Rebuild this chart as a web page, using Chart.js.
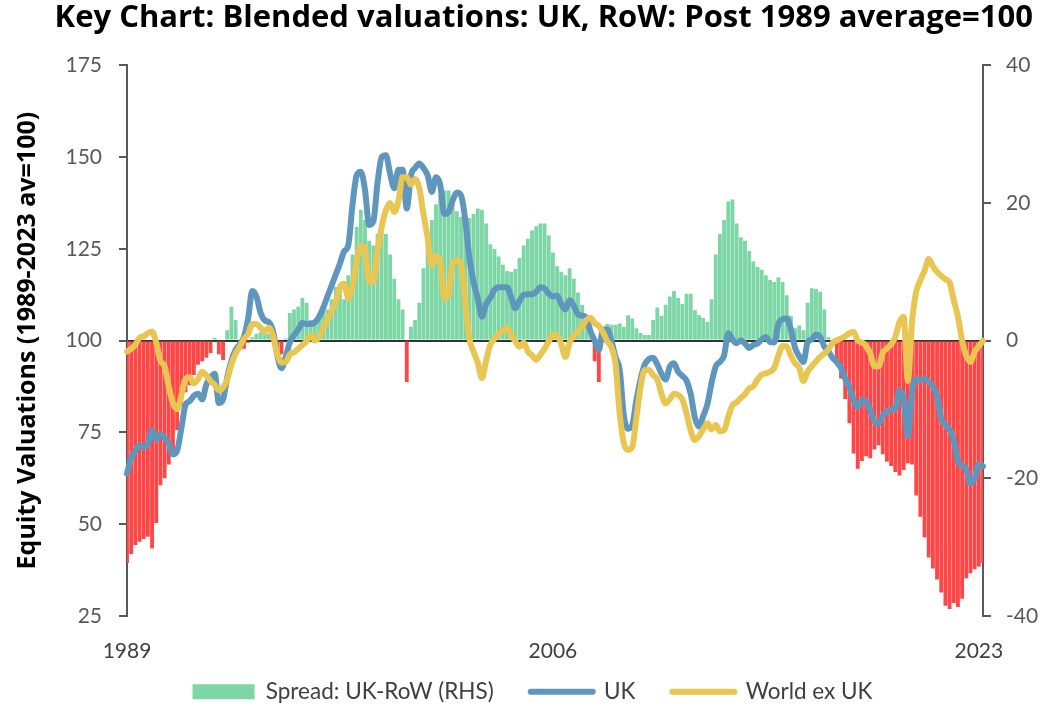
<!DOCTYPE html>
<html>
<head>
<meta charset="utf-8">
<title>Blended valuations: UK, RoW</title>
<script src="https://cdn.jsdelivr.net/npm/chart.js@4/dist/chart.umd.min.js"></script>
<style>
  html, body { margin: 0; padding: 0; background: #fff; }
</style>
</head>
<body>
<canvas id="chart" width="1041" height="706"></canvas>
<script>
// bimonthly observations, Jan 1989 .. Mar 2023 (one row per year)
const startYear = 1989;
const tickYears = ["1989", "2006", "2023"];

// UK minus rest of world, right hand scale
const spread = [
  -32.3, -31, -29.7, -29.2, -28.8, -28.5,
  -30.2, -26.5, -21, -20, -18, -16.5,
  -13, -9.5, -7.5, -6.5, -5, -3.5,
  -3, -2.5, -1.8, 0.4, -2, -2.8,
  1.5, 4.9, 3, -1, -1.2, -0.3,
  0.5, 1, 1.2, 1, 1, 0.2,
  -1.5, -2, 0.3, 4, 4.5, 4.9,
  6.2, 5.5, 3, 2.6, 3.9, 4.5,
  4.5, 6, 7.8, 7.8, 6, 9.5,
  12.5, 16.5, 19, 17.5, 14.5, 13.8,
  15.5, 17, 15.5, 12.5, 9, 6,
  4.5, -6, 2, 3, 5.5, 10.5,
  15, 17.5, 19.8, 21.2, 21.8, 21.8,
  20.5, 18.8, 18, 17.8, 17.8, 18.4,
  19.2, 19, 17, 14, 13.3, 12.2,
  11, 10.1, 10, 10.4, 12, 13.8,
  14.8, 16, 16.6, 17, 17, 15.3,
  12.8, 10.8, 10, 9.5, 10.5, 9,
  7, 5.2, 3.6, 1.8, -3, -6,
  1, 2.4, 2.3, 2.3, 2.5, 2,
  3.7, 3.2, 1.8, 1.1, 0.8, 0.8,
  3, 4.8, 3.6, 5.2, 6.4, 7.2,
  6.2, 5.3, 6.8, 6.8, 4.4, 3.7,
  3.3, 2.7, 6, 12.5, 15.5, 17.5,
  20.2, 20.5, 17, 15, 14.5, 13,
  11.5, 10.7, 10.3, 9.5, 8.8, 8.5,
  9.2, 8.5, 6.6, 3.6, 1.8, 2.2,
  1.5, 5.5, 7.6, 7.5, 7.1, 4.5,
  0.5, -0.6, -3.5, -5.5, -8.5, -12,
  -16.4, -18.6, -17.5, -16.8, -17.1, -15.8,
  -15.2, -16.5, -17.6, -18.2, -19.1, -19.6,
  -18.8, -17.8, -18, -22.5, -25.6, -28.6,
  -31.5, -33.1, -34.7, -36.6, -38.5, -39,
  -38.1, -38.7, -37.5, -34.5, -33.8, -33.2,
  -32.8, -32.3
];

const uk = [
  63.8, 68, 70, 71.5, 71, 72,
  75.5, 73, 74.5, 73.5, 72, 69,
  70, 76, 82.5, 83.5, 85, 85.5,
  84, 88, 90, 91, 83, 84,
  90, 94.5, 97.5, 99, 101, 106,
  113.5, 112, 107.5, 105.5, 105, 102.5,
  96, 92.5, 95.5, 99.5, 101.5, 103,
  104.8, 104.5, 104.5, 105, 106.5, 109,
  112, 115, 118, 121, 124.3, 126,
  137, 145, 146, 141, 131.5, 132.5,
  143, 150, 150.5, 145.5, 141.5, 146.5,
  146.5, 136, 145, 147, 148.2, 147,
  145, 140.5, 144.5, 142.5, 134.5, 135,
  138.2, 140.3, 139.5, 133, 122.5, 116,
  111.5, 106.5, 110, 111.6, 113.8, 114.5,
  114.5, 114.5, 111.8, 108.8, 110.8, 112.5,
  112.6, 112.6, 113.3, 114.5, 114.2, 112.8,
  112, 112.3, 110, 108.5, 111, 109.5,
  107.2, 106.8, 106.3, 102.5, 100, 97.5,
  103, 103, 100, 95.5, 92, 79.5,
  76, 77, 83.8, 89.5, 93.5, 95,
  95.3, 93.5, 91, 89.4, 92.9, 93.8,
  91.5, 90.4, 89.1, 85.5, 79, 76.6,
  79.5, 82.7, 88.5, 93, 94.2, 96,
  102, 100.3, 99.3, 100, 99.2, 98,
  98.8, 99.2, 100.3, 101, 99.6, 99.5,
  104.5, 105.8, 106, 103, 98, 95.7,
  94.2, 99.6, 100.3, 101.6, 101, 98.4,
  97, 95.3, 94.1, 92.5, 89.6, 87.3,
  83.8, 81.8, 83.8, 83.5, 81.1, 78,
  77.4, 79.5, 80.7, 81.3, 81.3, 86.5,
  84, 74, 86, 89.5, 89.2, 89.6,
  88.8, 87.6, 84.7, 78.8, 77, 75.8,
  72.9, 67.2, 65.9, 65, 61.1, 62.5,
  66.3, 65.8
];

const worldExUk = [
  97, 97.8, 98.8, 100.8, 101.2, 102,
  102.5, 99.5, 94.5, 93, 87.5, 83,
  81.3, 85, 89.5, 90, 88.3, 89.5,
  91.5, 90.5, 89, 88, 86.5, 87.2,
  89.5, 93.5, 96.5, 98.3, 100.5, 101.8,
  104.5, 104.5, 103.5, 102.5, 103.5, 101.2,
  96.3, 94, 94.2, 96.3, 96.8, 97.8,
  98.8, 99.8, 101.5, 100, 101, 103.5,
  105.8, 108, 110.5, 114.5, 115.5, 111.5,
  114.7, 121.5, 125.8, 125, 116, 116,
  124.5, 131, 135.5, 137.5, 135, 138,
  144.5, 144.5, 142.5, 144, 141.5, 134.5,
  128, 120.5, 123, 122, 111.5, 112.5,
  121, 121.8, 121, 110.5, 100.5, 97,
  94, 89.8, 94.5, 98.8, 100.5, 101.8,
  102.7, 103.5, 101.5, 99.8, 98.3, 99.5,
  97, 96, 94.8, 96.2, 97.8, 99.8,
  101.6, 101.5, 99, 95.5, 99.5, 101.3,
  102.5, 103.8, 105.6, 106.2, 104.8, 104,
  102.3, 99.8, 98.2, 93.5, 80, 72,
  70.2, 71, 79, 87.5, 92, 92,
  90.6, 89.4, 85.5, 82.9, 84, 85.5,
  85.2, 84, 80.2, 75.5, 72.9, 74,
  75.8, 77.5, 75.8, 77, 75.3, 75.6,
  79.3, 82.4, 83.2, 84.4, 85.4, 87,
  87.6, 89.4, 90.7, 91.1, 91.5, 92.6,
  96, 98.5, 98.4, 95.8, 93.8, 92.6,
  89, 91.6, 93, 94.3, 95.6, 96.5,
  97.6, 99.4, 100.1, 100.6, 101.2, 102,
  102.4, 100, 99.5, 98.5, 96.5, 93,
  93, 96.7, 97.9, 99, 101, 105,
  106.5, 89, 105, 113.3, 116.5, 119,
  122.2, 120.3, 118.7, 117.6, 116.7, 115.8,
  111, 106.5, 100, 95.8, 94.2, 96.9,
  98.5, 99.9
];

// category labels "YYYY-MM", one every two months
const categories = uk.map((_, i) => {
  const year = startYear + Math.floor(i / 6);
  const month = (i % 6) * 2 + 1;
  return year + "-" + String(month).padStart(2, "0");
});

const GREEN = "#7dd6a5";
const RED = "#ff4646";
const BLUE = "#5e96be";
const YELLOW = "#e9c552";
const AXIS = "#595959";
const TEXT = "#404040";
const tickFont = { family: "Lato", size: 21 };
const legendFont = { family: "Lato", size: 22.5 };
const GAP = "\u2002\u2002"; // extra room between legend entries

const keepYears = function (value) {
  const [yy, mm] = this.getLabelForValue(value).split("-");
  return mm === "01" && tickYears.includes(yy) ? yy : "";
};

const legendLabels = (chart) => {
  const items = Chart.defaults.plugins.legend.labels.generateLabels(chart);
  items.forEach((item) => {
    const ds = chart.data.datasets[item.datasetIndex];
    item.text = ds.label + (ds.legendTail || "");
    if (ds.type === "bar") {
      item.pointStyle = "rect";
      item.fillStyle = GREEN;
      item.strokeStyle = GREEN;
      item.lineWidth = 0;
    } else {
      item.pointStyle = "line";
      item.strokeStyle = ds.borderColor;
      item.lineWidth = 6;
      item.lineCap = "round";
    }
  });
  return items;
};

new Chart(document.getElementById("chart"), {
  data: {
    labels: categories,
    datasets: [
      {
        type: "bar",
        label: "Spread: UK-RoW (RHS)",
        legendTail: GAP,
        data: spread,
        yAxisID: "y1",
        order: 3,
        backgroundColor: (c) => (c.raw < 0 ? RED : GREEN),
        borderWidth: 0,
        barPercentage: 0.92,
        categoryPercentage: 1
      },
      {
        type: "line",
        label: "UK",
        legendTail: GAP,
        data: uk,
        yAxisID: "y",
        order: 2,
        borderColor: BLUE,
        backgroundColor: BLUE,
        borderWidth: 6,
        pointRadius: 0,
        cubicInterpolationMode: "monotone",
        borderJoinStyle: "round",
        borderCapStyle: "round"
      },
      {
        type: "line",
        label: "World ex UK",
        legendTail: "\u2003\u2003\u2002",
        data: worldExUk,
        yAxisID: "y",
        order: 1,
        borderColor: YELLOW,
        backgroundColor: YELLOW,
        borderWidth: 6,
        pointRadius: 0,
        cubicInterpolationMode: "monotone",
        borderJoinStyle: "round",
        borderCapStyle: "round"
      }
    ]
  },
  options: {
    responsive: false,
    devicePixelRatio: 1,
    animation: false,
    events: [],
    layout: { padding: { left: 0, right: 0, top: 0, bottom: -7 } },
    plugins: {
      title: {
        display: true,
        text: "\u2003\u2002Key Chart: Blended valuations: UK, RoW: Post 1989 average=100",
        color: "#000",
        font: { family: "Open Sans", size: 31, weight: "bold" },
        padding: { top: 0, bottom: 28 }
      },
      legend: {
        position: "bottom",
        fullSize: false,
        labels: {
          color: TEXT,
          font: legendFont,
          usePointStyle: true,
          pointStyleWidth: 62,
          boxHeight: 15,
          padding: 14.5,
          generateLabels: legendLabels,
          sort: (a, b) => a.datasetIndex - b.datasetIndex
        }
      },
      tooltip: { enabled: false }
    },
    scales: {
      x: {
        offset: false,
        grid: { display: false, drawTicks: false },
        border: { display: false },
        ticks: {
          autoSkip: false,
          maxRotation: 0,
          padding: 23,
          color: TEXT,
          font: tickFont,
          callback: keepYears
        },
        afterFit: (s) => { s.height = 50; }
      },
      y: {
        position: "left",
        min: 25,
        max: 175,
        ticks: { stepSize: 25, padding: 17, color: AXIS, font: tickFont },
        grid: {
          color: (c) => (c.tick && c.tick.value === 100 ? "#333333" : "rgba(0,0,0,0)"),
          lineWidth: 2,
          tickColor: AXIS,
          tickLength: 8
        },
        border: { display: true, color: AXIS, width: 2 },
        title: {
          display: true,
          text: "Equity Valuations (1989-2023 av=100)",
          color: "#000",
          font: { family: "Open Sans", size: 25, weight: "bold" },
          padding: { top: 13, bottom: 0 }
        },
        afterFit: (s) => { s.width = 127; }
      },
      y1: {
        position: "right",
        min: -40,
        max: 40,
        ticks: { stepSize: 20, padding: 15, color: AXIS, font: tickFont },
        grid: { drawOnChartArea: false, lineWidth: 2, tickColor: AXIS, tickLength: 8 },
        border: { display: true, color: AXIS, width: 2 },
        afterFit: (s) => { s.width = 58; }
      }
    }
  }
});
</script>
</body>
</html>
